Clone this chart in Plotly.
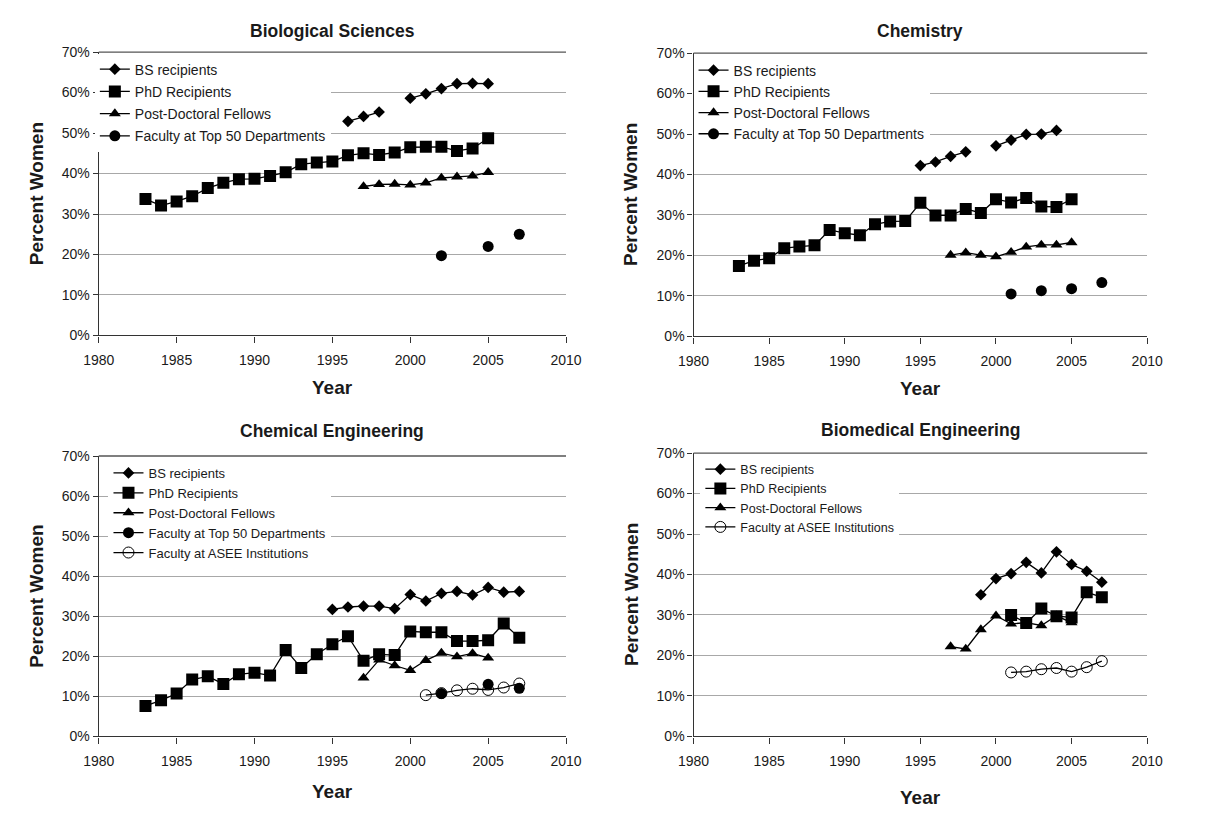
import plotly.graph_objects as go

# ---- Biological Sciences ----
bio_bs_years = [1996, 1997, 1998, 1999, 2000, 2001, 2002, 2003, 2004, 2005]
bio_bs = [52.9, 54.1, 55.2, None, 58.6, 59.7, 61.0, 62.2, 62.3, 62.2]
bio_phd_years = [1983, 1984, 1985, 1986, 1987, 1988, 1989, 1990, 1991, 1992, 1993, 1994,
                 1995, 1996, 1997, 1998, 1999, 2000, 2001, 2002, 2003, 2004, 2005]
bio_phd = [33.7, 32.1, 33.1, 34.4, 36.4, 37.7, 38.6, 38.7, 39.4, 40.3, 42.3, 42.7,
           43.0, 44.5, 45.0, 44.6, 45.2, 46.5, 46.6, 46.6, 45.6, 46.2, 48.7]
bio_pd_years = [1997, 1998, 1999, 2000, 2001, 2002, 2003, 2004, 2005]
bio_pd = [36.8, 37.3, 37.4, 37.2, 37.7, 38.9, 39.2, 39.4, 40.3]
bio_fac_years = [2002, 2003, 2004, 2005, 2006, 2007]
bio_fac = [19.7, None, None, 22.0, None, 25.0]

# ---- Chemistry ----
chem_bs_years = [1995, 1996, 1997, 1998, 1999, 2000, 2001, 2002, 2003, 2004]
chem_bs = [42.2, 43.1, 44.5, 45.6, None, 47.1, 48.5, 49.9, 50.0, 50.9]
chem_phd_years = [1983, 1984, 1985, 1986, 1987, 1988, 1989, 1990, 1991, 1992, 1993, 1994,
                  1995, 1996, 1997, 1998, 1999, 2000, 2001, 2002, 2003, 2004, 2005]
chem_phd = [17.4, 18.7, 19.3, 21.8, 22.2, 22.5, 26.3, 25.5, 25.0, 27.7, 28.4, 28.5,
            33.0, 29.9, 29.9, 31.5, 30.5, 33.9, 33.1, 34.2, 32.1, 32.0, 33.9]
chem_pd_years = [1997, 1998, 1999, 2000, 2001, 2002, 2003, 2004, 2005]
chem_pd = [20.1, 20.7, 20.1, 19.7, 20.8, 22.1, 22.6, 22.6, 23.2]
chem_fac_years = [2001, 2002, 2003, 2004, 2005, 2006, 2007]
chem_fac = [10.5, None, 11.3, None, 11.8, None, 13.3]

# ---- Chemical Engineering ----
che_bs_years = [1995, 1996, 1997, 1998, 1999, 2000, 2001, 2002, 2003, 2004, 2005, 2006, 2007]
che_bs = [31.7, 32.3, 32.5, 32.5, 31.9, 35.4, 33.8, 35.7, 36.2, 35.3, 37.2, 36.0, 36.2]
che_phd_years = [1983, 1984, 1985, 1986, 1987, 1988, 1989, 1990, 1991, 1992, 1993, 1994,
                 1995, 1996, 1997, 1998, 1999, 2000, 2001, 2002, 2003, 2004, 2005, 2006, 2007]
che_phd = [7.6, 9.0, 10.7, 14.2, 15.0, 13.1, 15.5, 15.9, 15.2, 21.6, 17.1, 20.5,
           23.0, 25.0, 18.9, 20.5, 20.3, 26.2, 26.0, 26.0, 23.8, 23.8, 24.0, 28.2, 24.6]
che_pd_years = [1997, 1998, 1999, 2000, 2001, 2002, 2003, 2004, 2005]
che_pd = [14.6, 19.1, 17.7, 16.5, 19.0, 20.8, 19.9, 20.7, 19.6]
che_fac_years = [2002, 2003, 2004, 2005, 2006, 2007]
che_fac = [10.7, None, None, 13.0, None, 12.0]
che_asee_years = [2001, 2002, 2003, 2004, 2005, 2006, 2007]
che_asee = [10.3, 10.8, 11.5, 11.9, 11.6, 12.2, 13.2]

# ---- Biomedical Engineering ----
bme_bs_years = [1999, 2000, 2001, 2002, 2003, 2004, 2005, 2006, 2007]
bme_bs = [35.0, 39.0, 40.2, 43.0, 40.4, 45.6, 42.5, 40.8, 38.1]
bme_phd_years = [2001, 2002, 2003, 2004, 2005, 2006, 2007]
bme_phd = [30.0, 28.0, 31.6, 29.7, 29.4, 35.6, 34.4]
bme_pd_years = [1997, 1998, 1999, 2000, 2001, 2002, 2003, 2004, 2005]
bme_pd = [22.2, 21.6, 26.4, 29.8, 27.8, 28.1, 27.4, 29.8, 28.1]
bme_asee_years = [2001, 2002, 2003, 2004, 2005, 2006, 2007]
bme_asee = [15.8, 16.0, 16.6, 16.9, 16.0, 17.1, 18.6]

TITLES = ["Biological Sciences", "Chemistry", "Chemical Engineering", "Biomedical Engineering"]
NAMES = {
    "bs": "BS recipients",
    "phd": "PhD Recipients",
    "pd": "Post-Doctoral Fellows",
    "fac": "Faculty at Top 50 Departments",
    "asee": "Faculty at ASEE Institutions",
}
Y_TICKS = [0, 10, 20, 30, 40, 50, 60, 70]
Y_TICK_TEXT = ["0%", "10%", "20%", "30%", "40%", "50%", "60%", "70%"]
X_TICKS = [1980, 1985, 1990, 1995, 2000, 2005, 2010]

FONT = "Arial, Liberation Sans, sans-serif"
TXT = "#1a1a1a"
W, H = 1207, 814

MARKERS = {
    "bs": dict(symbol="diamond", size=9, color="black"),
    "phd": dict(symbol="square", size=12, color="black"),
    "pd": dict(symbol="triangle-up", size=10.5, color="black"),
    "fac": dict(symbol="circle", size=11, color="black"),
    "asee": dict(symbol="circle-open", size=11, color="black", line=dict(width=1, color="black")),
}

panels = [
    [("bs", bio_bs_years, bio_bs), ("phd", bio_phd_years, bio_phd),
     ("pd", bio_pd_years, bio_pd), ("fac", bio_fac_years, bio_fac)],
    [("bs", chem_bs_years, chem_bs), ("phd", chem_phd_years, chem_phd),
     ("pd", chem_pd_years, chem_pd), ("fac", chem_fac_years, chem_fac)],
    [("bs", che_bs_years, che_bs), ("phd", che_phd_years, che_phd),
     ("pd", che_pd_years, che_pd), ("fac", che_fac_years, che_fac),
     ("asee", che_asee_years, che_asee)],
    [("bs", bme_bs_years, bme_bs), ("phd", bme_phd_years, bme_phd),
     ("pd", bme_pd_years, bme_pd), ("asee", bme_asee_years, bme_asee)],
]

# plot-area boxes in pixels: left, right, top, bottom
boxes = [
    (85, 565, 45, 334),
    (696, 1162, 46, 335),
    (85, 565, 457, 743),
    (696, 1162, 454, 743),
]
# legend: left px, top px, font size, group gap
legend_pos = [
    (81, 46.5, 14, 1),
    (696, 47.5, 14, 0),
    (95, 459, 13, 0),
    (703, 455.5, 12.5, 0),
]
year_label_y = [387, 388, 799, 805]
title_y = [23, 23, 431, 430]


def px_x(p):
    return p / W


def px_y(p):
    return 1 - p / H


fig = go.Figure()
layout = dict(
    width=W, height=H,
    margin=dict(l=0, r=0, t=0, b=0),
    paper_bgcolor="white", plot_bgcolor="white",
    font=dict(family=FONT, color=TXT, size=14),
    annotations=[], shapes=[],
)

for i, series in enumerate(panels):
    n = "" if i == 0 else str(i + 1)
    xa, ya = "x" + n, "y" + n
    leg = "legend" + n
    for key, yrs, vals in series:
        fig.add_trace(go.Scatter(
            x=yrs, y=vals, name=NAMES[key], mode="lines+markers",
            line=dict(color="black", width=1.3),
            marker=MARKERS[key], connectgaps=False,
            xaxis=xa, yaxis=ya, legend=leg, legendgroup=f"{i}-{key}",
        ))
    l, r, t, b = boxes[i]
    layout["xaxis" + n] = dict(
        domain=[px_x(l), px_x(r)], anchor=ya, range=[1980, 2010],
        tickvals=X_TICKS, ticks="outside", ticklen=6, tickcolor="#333",
        ticklabelstandoff=6,
        showline=True, linecolor="#333", linewidth=1.3, showgrid=False,
        zeroline=False, tickfont=dict(size=14, color=TXT), fixedrange=True,
    )
    layout["yaxis" + n] = dict(
        domain=[px_y(b), px_y(t)], anchor=xa, range=[0, 70],
        tickvals=Y_TICKS, ticktext=Y_TICK_TEXT, ticks="outside", ticklen=5, tickcolor="#333",
        showline=True, linecolor="#333", linewidth=1.3,
        showgrid=True, gridcolor="#a8a8a8", gridwidth=1,
        zeroline=False, tickfont=dict(size=14, color=TXT), fixedrange=True,
    )
    lx, ly, lfs, gap = legend_pos[i]
    layout[leg] = dict(
        x=px_x(lx), y=px_y(ly), xanchor="left", yanchor="top",
        xref="paper", yref="paper",
        bgcolor="white", borderwidth=0,
        font=dict(size=lfs, color=TXT, family=FONT),
        traceorder="grouped", tracegroupgap=gap,
    )
    # darker rule along the top of the plot area
    layout["shapes"].append(dict(
        type="line", xref=xa + " domain", yref=ya + " domain",
        x0=0, x1=1, y0=1, y1=1, line=dict(color="#555", width=1.3),
    ))
    cx = (l + r) / 2
    layout["annotations"].append(dict(
        text="<b>" + TITLES[i] + "</b>", x=px_x(cx), y=px_y(title_y[i]),
        xref="paper", yref="paper", showarrow=False,
        font=dict(size=17.5, color=TXT), xanchor="center", yanchor="middle",
    ))
    layout["annotations"].append(dict(
        text="<b>Year</b>", x=px_x(cx), y=px_y(year_label_y[i]),
        xref="paper", yref="paper", showarrow=False,
        font=dict(size=19, color=TXT), xanchor="center", yanchor="middle",
    ))
    layout["annotations"].append(dict(
        text="<b>Percent Women</b>", x=px_x(l - 64), y=px_y((t + b) / 2),
        xref="paper", yref="paper", showarrow=False, textangle=-90,
        font=dict(size=19, color=TXT), xanchor="center", yanchor="middle",
    ))

layout["showlegend"] = True
fig.update_layout(**layout)
fig.write_html("out.html")
